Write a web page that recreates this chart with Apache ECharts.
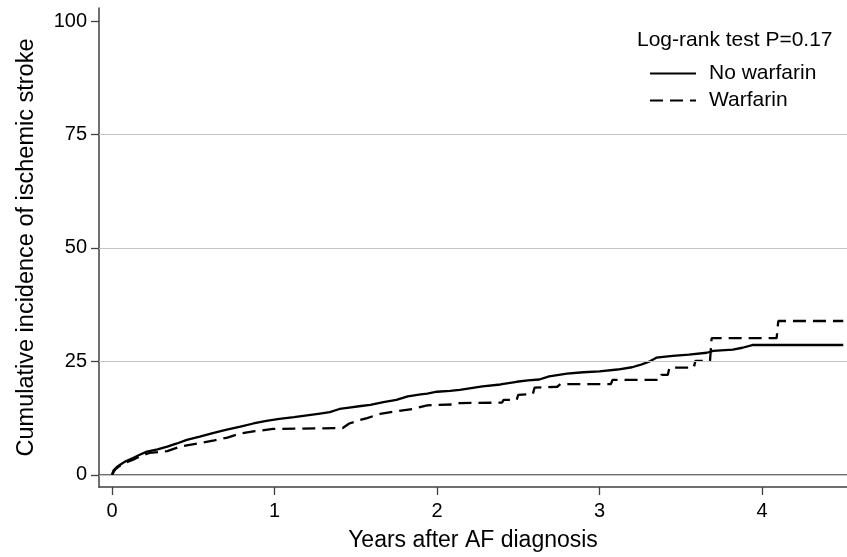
<!DOCTYPE html>
<html>
<head>
<meta charset="utf-8">
<script src="https://cdn.jsdelivr.net/npm/echarts@6/dist/echarts.min.js"></script>
<style>html,body{margin:0;padding:0;background:#fff;}#c{width:847px;height:557px;}</style>
</head>
<body>
<div id="c"></div>
<script>
// Data
const noWarfarinT = [0,0.01,0.03,0.05,0.08,0.13,0.17,0.215,0.28,0.34,0.40,0.46,0.54,0.62,0.70,0.79,0.87,0.95,1.03,1.12,1.20,1.28,1.34,1.40,1.46,1.52,1.59,1.67,1.75,1.82,1.90,1.94,2.00,2.08,2.14,2.21,2.28,2.39,2.49,2.56,2.63,2.69,2.80,2.90,3.00,3.11,3.20,3.25,3.31,3.35,3.45,3.55,3.66,3.70,3.82,3.88,3.94,4.50];
const noWarfarinY = [0,1.0,1.7,2.2,2.9,3.7,4.4,5.1,5.6,6.2,6.9,7.7,8.4,9.2,9.9,10.6,11.3,11.9,12.3,12.7,13.1,13.5,13.8,14.5,14.8,15.1,15.4,16.0,16.5,17.3,17.7,17.9,18.3,18.5,18.7,19.1,19.5,19.9,20.5,20.8,21.0,21.7,22.3,22.6,22.8,23.2,23.7,24.2,25.0,25.8,26.2,26.5,26.9,27.3,27.6,28.0,28.6,28.6];
const warfarinT = [0,0.02,0.05,0.08,0.13,0.18,0.23,0.34,0.42,0.54,0.63,0.71,0.79,0.88,0.99,1.42,1.46,1.52,1.57,1.65,1.75,1.85,1.94,2.10,2.14,2.40,2.41,2.49,2.50,2.59,2.60,2.74,2.76,3.07,3.08,3.37,3.38,3.42,3.43,3.58,3.59,3.68,3.69,4.09,4.10,4.50];
const warfarinY = [0,1.2,2.0,2.6,3.3,4.2,4.8,5.2,6.2,7.0,7.6,8.2,9.1,9.6,10.1,10.3,11.3,12.0,12.5,13.4,14.0,14.5,15.3,15.5,15.8,15.9,16.5,16.5,17.6,17.8,19.2,19.4,20.0,20.0,20.9,20.9,22.0,22.0,23.6,23.6,25.1,25.1,30.1,30.1,33.9,33.9];
const xTicks = [0,1,2,3,4];
const yTicks = [0,25,50,75,100];
const gridValues = [0,25,50,75];
const seriesNames = ['No warfarin','Warfarin'];
const pValueText = 'Log-rank test P=0.17';
const xTitle = 'Years after AF diagnosis';
const yTitle = 'Cumulative incidence of ischemic stroke';

const zip = (t, y) => t.map((v, i) => [v, y[i]]);
const FONT = '"Liberation Sans", Arial, sans-serif';
const AXC = '#404040';

const chart = echarts.init(document.getElementById('c'), null, {renderer: 'canvas'});
chart.setOption({
  animation: false,
  backgroundColor: '#fff',
  textStyle: {fontFamily: FONT, color: '#000'},
  title: {
    text: pValueText,
    left: 637, top: 30,
    padding: 0,
    textStyle: {fontFamily: FONT, fontSize: 21, fontWeight: 'normal', color: '#000'}
  },
  legend: {
    orient: 'vertical',
    left: 649, top: 63,
    padding: 0,
    itemWidth: 46, itemHeight: 18, itemGap: 6,
    data: seriesNames,
    itemStyle: {color: 'rgba(0,0,0,0)', borderWidth: 0, opacity: 0},
    textStyle: {fontFamily: FONT, fontSize: 21, color: '#000', padding: [0,0,0,8]}
  },
  grid: {left: 99, top: 8, right: 0, bottom: 70, containLabel: false},
  xAxis: [{
    type: 'value', min: -0.08, max: 4.523,
    name: xTitle, nameLocation: 'middle', nameGap: 42,
    nameTextStyle: {fontFamily: FONT, fontSize: 23, color: '#000'},
    axisLine: {show: true, onZero: false, lineStyle: {color: AXC, width: 1.5}},
    axisTick: {show: true, length: 8, lineStyle: {color: AXC, width: 1.3}, customValues: xTicks},
    axisLabel: {fontFamily: FONT, fontSize: 20, color: '#000', margin: 14, customValues: xTicks},
    splitLine: {show: false}
  }, {
    type: 'value', position: 'top', min: -0.08, max: 4.523,
    axisLine: {show: true, lineStyle: {color: AXC, width: 1.5}},
    axisTick: {show: false}, axisLabel: {show: false}, splitLine: {show: false}
  }],
  yAxis: {
    type: 'value', min: -2.7, max: 102.9,
    name: yTitle, nameLocation: 'middle', nameGap: 60,
    nameTextStyle: {fontFamily: FONT, fontSize: 23.5, color: '#000'},
    axisLine: {show: true, onZero: false, lineStyle: {color: AXC, width: 1.5}},
    axisTick: {show: true, length: 8, lineStyle: {color: AXC, width: 1.3}, customValues: yTicks},
    axisLabel: {fontFamily: FONT, fontSize: 20, color: '#000', margin: 12, customValues: yTicks},
    splitLine: {show: false}
  },
  series: [{
    name: 'grid',
    type: 'line', data: [], z: 1, silent: true,
    markLine: {
      silent: true, symbol: 'none', label: {show: false}, animation: false,
      lineStyle: {color: '#c4c4c4', width: 1.2, type: 'solid'},
      emphasis: {disabled: true},
      data: gridValues.map(v => ({yAxis: v}))
    }
  }, {
    name: seriesNames[0],
    type: 'line', showSymbol: false, symbol: 'none', z: 3,
    data: zip(noWarfarinT, noWarfarinY),
    lineStyle: {color: '#000', width: 2.3, type: 'solid'},
    itemStyle: {color: '#000'}
  }, {
    name: seriesNames[1],
    type: 'line', showSymbol: false, symbol: 'none', z: 3,
    data: zip(warfarinT, warfarinY),
    lineStyle: {color: '#000', width: 2.3, type: [13, 7]},
    itemStyle: {color: '#000'}
  }]
});
</script>
</body>
</html>
